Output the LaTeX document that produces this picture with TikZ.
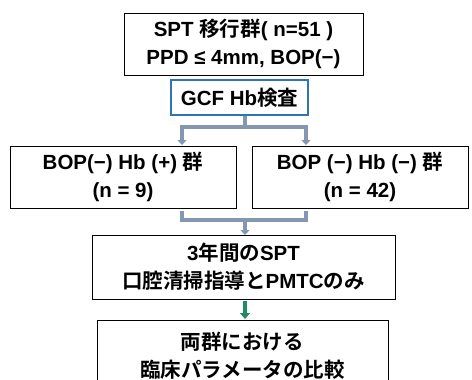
\documentclass[tikz,border=0pt]{standalone}
\usepackage{fontspec}
\setmainfont{Liberation Sans}
\newfontfamily\jpfont{Noto Sans CJK JP}[BoldFont={* Bold}]
\newcommand{\jp}[1]{{\jpfont\bfseries #1}}
\usetikzlibrary{arrows.meta}
\definecolor{conn}{RGB}{132,151,176}
\definecolor{gcfblue}{RGB}{46,117,182}
\definecolor{grn}{RGB}{32,140,100}
\begin{document}
\begin{tikzpicture}[x=1pt,y=1pt,
  box/.style={draw=black,line width=1pt,fill=white,align=center,font=\bfseries\fontsize{20.5}{28}\selectfont,inner sep=0pt},
  bluebox/.style={box,draw=gcfblue,line width=2pt},
  conline/.style={draw=conn,line width=3.5pt},
  contip/.style={conline,-{Triangle[width=9pt,length=5pt]}},
  grnarrow/.style={draw=grn,line width=4pt,-{Triangle[width=10pt,length=6pt]}}]
\useasboundingbox (0,0) rectangle (472,-380);
\node[box,minimum width=239pt,minimum height=62pt] (top) at (243.5,-44) {SPT \jp{移行群}( n=51 )\\PPD ≤ 4mm, BOP(−)};
\node[bluebox,minimum width=137pt,minimum height=35pt] (gcf) at (239.5,-97.5) {GCF Hb\jp{検査}};
\node[box,minimum width=226pt,minimum height=62pt] (left) at (123,-177) {BOP(−) Hb (+) \jp{群}\\(n = 9)};
\node[box,minimum width=216pt,minimum height=62pt] (right) at (360,-177) {BOP (−) Hb (−) \jp{群}\\(n = 42)};
\node[box,minimum width=303pt,minimum height=64pt] (spt) at (243.5,-267) {3\jp{年間の}SPT\\\jp{口腔清掃指導と}PMTC\jp{のみ}};
\node[box,minimum width=291pt,minimum height=70pt,anchor=north] (cmp) at (242.5,-320) {\jp{両群における}\\\jp{臨床パラメータの比較}};
\coordinate (s1) at (245,-116);
\coordinate (j1) at (245,-127);
\coordinate (la) at (182,-145);
\coordinate (ra) at (306,-145);
\coordinate (lb) at (182,-211);
\coordinate (rb) at (306,-211);
\coordinate (j2) at (245,-220);
\coordinate (sb) at (245,-235);
\coordinate (g1) at (245,-301);
\coordinate (g2) at (245,-319);
\draw[conline] (s1) -- (j1);
\draw[contip] (j1) -| (la);
\draw[contip] (j1) -| (ra);
\draw[conline] (lb) |- (j2) -| (rb);
\draw[contip] (j2) -- (sb);
\draw[grnarrow] (g1) -- (g2);
\end{tikzpicture}
\end{document}
